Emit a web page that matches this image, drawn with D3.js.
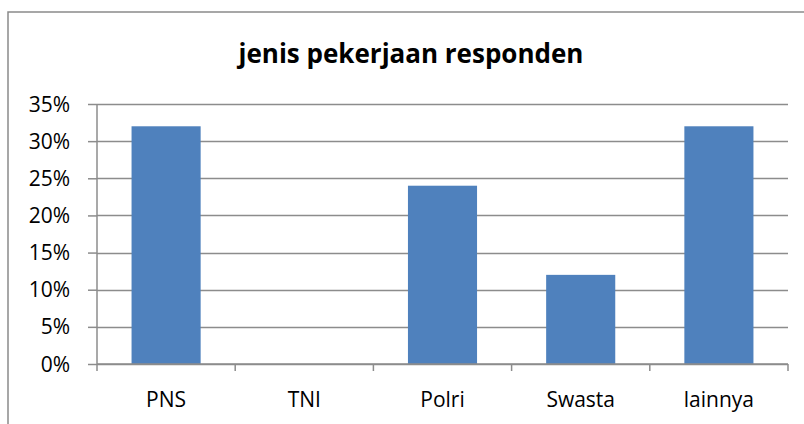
<!DOCTYPE html>
<html lang="en">
<head>
    <meta charset="UTF-8">
    <title>jenis pekerjaan responden</title>
    <script src="https://cdnjs.cloudflare.com/ajax/libs/d3/7.8.2/d3.min.js"></script>
    <style>
        body {
            margin: 0;
            background: #fff;
            font-family: "Open Sans", sans-serif;
        }
        svg { display: block; }
    </style>
</head>
<body>
    <div id="chart"></div>
    <script>
        // data
        const categories = ["PNS", "TNI", "Polri", "Swasta", "lainnya"];
        const values = [0.32, 0, 0.24, 0.12, 0.32];
        const yTicks = [0, 0.05, 0.10, 0.15, 0.20, 0.25, 0.30, 0.35];

        const width = 804, height = 424;
        const plot = { left: 97, right: 788, top: 104, bottom: 364 };

        const svg = d3.select("#chart").append("svg")
            .attr("width", width)
            .attr("height", height);

        // outer chart border (cropped at right/bottom)
        svg.append("path")
            .attr("d", `M8,${height + 2}V12H${width + 2}`)
            .attr("fill", "none")
            .attr("stroke", "#8a8a8a")
            .attr("stroke-width", 1.5);

        svg.append("text")
            .attr("x", 411)
            .attr("y", 63)
            .attr("text-anchor", "middle")
            .attr("font-weight", "bold")
            .attr("font-size", 26)
            .attr("fill", "#000")
            .text("jenis pekerjaan responden");

        const x = d3.scaleBand()
            .domain(categories)
            .range([plot.left, plot.right])
            .paddingInner(0.5)
            .paddingOuter(0.25);

        const y = d3.scaleLinear()
            .domain([0, 0.35])
            .range([plot.bottom, plot.top]);

        // gridlines
        svg.append("g")
            .selectAll("line")
            .data(yTicks)
            .enter()
            .append("line")
            .attr("x1", plot.left)
            .attr("x2", plot.right)
            .attr("y1", d => Math.round(y(d)) + 0.5)
            .attr("y2", d => Math.round(y(d)) + 0.5)
            .attr("stroke", "#8c8c8c")
            .attr("stroke-width", 1.5);

        // bars
        svg.append("g")
            .selectAll("rect")
            .data(values)
            .enter()
            .append("rect")
            .attr("x", (d, i) => x(categories[i]))
            .attr("width", x.bandwidth())
            .attr("y", d => y(d))
            .attr("height", d => plot.bottom - y(d))
            .attr("fill", "#4f81bd");

        // y axis
        const yAxis = svg.append("g")
            .attr("transform", `translate(${plot.left},0)`)
            .call(d3.axisLeft(y)
                .tickValues(yTicks)
                .tickFormat(d3.format(".0%"))
                .tickSize(9)
                .tickPadding(18));
        yAxis.select(".domain").attr("d", `M0,${plot.top}V${plot.bottom + 1}`);

        // x axis, ticks on category boundaries
        const boundaries = d3.range(categories.length + 1)
            .map(i => plot.left + i * x.step());
        const xAxis = svg.append("g")
            .attr("transform", `translate(0,${plot.bottom})`);
        xAxis.append("line")
            .attr("x1", plot.left)
            .attr("x2", plot.right)
            .attr("stroke", "#8c8c8c")
            .attr("stroke-width", 1.5);
        xAxis.selectAll("line.tick")
            .data(boundaries)
            .enter()
            .append("line")
            .attr("class", "tick")
            .attr("x1", d => d)
            .attr("x2", d => d)
            .attr("y1", 0)
            .attr("y2", 7)
            .attr("stroke", "#8c8c8c")
            .attr("stroke-width", 1.5);
        xAxis.selectAll("text")
            .data(categories)
            .enter()
            .append("text")
            .attr("x", d => x(d) + x.bandwidth() / 2)
            .attr("y", 43)
            .attr("text-anchor", "middle")
            .attr("font-size", 21)
            .attr("fill", "#000")
            .text(d => d);

        yAxis.selectAll("line").attr("stroke", "#8c8c8c").attr("stroke-width", 1.5);
        yAxis.select(".domain").attr("stroke", "#8c8c8c").attr("stroke-width", 1.5);
        yAxis.selectAll("text")
            .attr("font-family", "Open Sans, sans-serif")
            .attr("font-size", 21)
            .attr("dy", "0.34em")
            .attr("fill", "#000");
    </script>
</body>
</html>
